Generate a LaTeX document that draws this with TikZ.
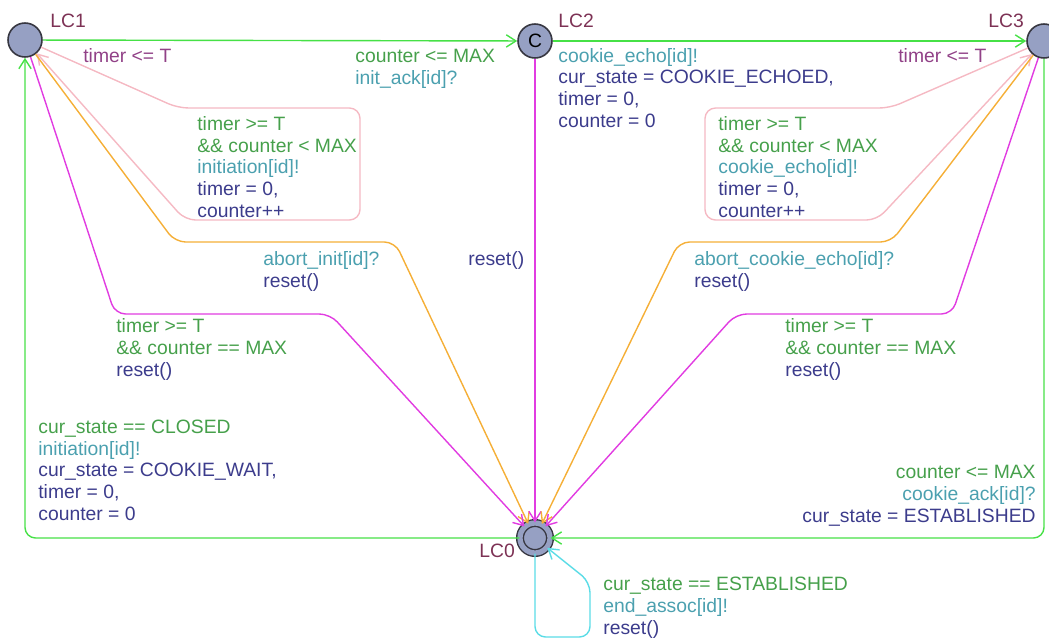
\documentclass[tikz,border=0pt]{standalone}
\usepackage{fontspec}
\setmainfont{Liberation Sans}
\usetikzlibrary{arrows.meta}
\definecolor{guardgreen}{RGB}{70,160,75}
\definecolor{synccyan}{RGB}{75,160,175}
\definecolor{updnavy}{RGB}{60,60,140}
\definecolor{invpurple}{RGB}{145,65,135}
\definecolor{namemaroon}{RGB}{125,50,85}
\definecolor{edgegreen}{RGB}{70,225,70}
\definecolor{edgepink}{RGB}{245,185,195}
\definecolor{edgeorange}{RGB}{245,175,55}
\definecolor{edgemagenta}{RGB}{225,60,225}
\definecolor{edgecyan}{RGB}{90,220,230}
\definecolor{locfill}{RGB}{150,160,195}
\definecolor{locdraw}{RGB}{55,55,65}

\begin{document}
\begin{tikzpicture}[
    x=0.02cm, y=-0.02cm,
    loc/.style={circle, draw=locdraw, fill=locfill, line width=0.9pt, minimum size=0.68cm, inner sep=0pt},
    initloc/.style={circle, draw=locdraw, fill=locfill, line width=0.8pt, double=locfill, double distance=3pt, minimum size=0.6cm, inner sep=0pt},
    locname/.style={inner sep=0pt, anchor=base west, text=namemaroon, font=\fontsize{11}{12.3}\selectfont},
    lbl/.style={inner sep=0pt, anchor=base west, align=left, font=\fontsize{11}{12.3}\selectfont},
    edge/.style={->, >={Straight Barb[length=5.5pt, width=7pt]}, line width=0.8pt, rounded corners=6pt}
]
    \useasboundingbox (0,0) rectangle (1049,640);

    % Locations
    \node[loc] (lc1) at (25,40) {};
    \node[loc, font=\fontsize{11}{12}\selectfont] (lc2) at (535,41) {C};
    \node[loc] (lc3) at (1044,41) {};
    \node[initloc] (lc0) at (535,538) {};

    % Location names and invariants
    \node[locname] (lc1name) at (50,27) {LC1};
    \node[locname] (lc2name) at (558,27) {LC2};
    \node[locname] (lc3name) at (988,27) {LC3};
    \node[locname] (lc0name) at (479,557) {LC0};
    \node[lbl, text=invpurple] (lc1inv) at (83,62) {timer <= T};
    \node[lbl, text=invpurple] (lc3inv) at (898,62) {timer <= T};

    % Top row edges (labels anchored on their last line)
    \draw[edge, edgegreen] (lc1) -- (lc2);
    \draw[edge, edgegreen] (lc2) -- (lc3);
    \node[lbl] (initack) at (355,84) {\textcolor{guardgreen}{counter <= MAX}\\
        \textcolor{synccyan}{init\_ack[id]?}};
    \node[lbl] (echo) at (558,127) {\textcolor{synccyan}{cookie\_echo[id]!}\\
        \textcolor{updnavy}{cur\_state = COOKIE\_ECHOED,}\\
        \textcolor{updnavy}{timer = 0,}\\
        \textcolor{updnavy}{counter = 0}};

    % Retransmission loops
    \draw[edge, edgepink] (lc1) -- (178,108) -- (360,108) -- (360,220) -- (185,220) -- (lc1);
    \draw[edge, edgepink] (lc3) -- (890,108) -- (705,108) -- (705,220) -- (877,220) -- (lc3);
    \node[lbl] (retryinit) at (197,217) {\textcolor{guardgreen}{timer >= T}\\
        \textcolor{guardgreen}{\&\& counter < MAX}\\
        \textcolor{synccyan}{initiation[id]!}\\
        \textcolor{updnavy}{timer = 0,}\\
        \textcolor{updnavy}{counter++}};
    \node[lbl] (retryecho) at (718,217) {\textcolor{guardgreen}{timer >= T}\\
        \textcolor{guardgreen}{\&\& counter < MAX}\\
        \textcolor{synccyan}{cookie\_echo[id]!}\\
        \textcolor{updnavy}{timer = 0,}\\
        \textcolor{updnavy}{counter++}};

    % Aborts and timeouts back to LC0
    \draw[edge, edgeorange] (lc1) -- (175,242) -- (395,242) -- (lc0);
    \draw[edge, edgemagenta] (lc1) -- (115,314) -- (330,314) -- (lc0);
    \draw[edge, edgemagenta] (lc2) -- (lc0);
    \draw[edge, edgeorange] (lc3) -- (891,242) -- (679,242) -- (lc0);
    \draw[edge, edgemagenta] (lc3) -- (952,314) -- (736,314) -- (lc0);
    \node[lbl] (abortinit) at (263,287) {\textcolor{synccyan}{abort\_init[id]?}\\
        \textcolor{updnavy}{reset()}};
    \node[lbl, text=updnavy] (reset2) at (468,265) {reset()};
    \node[lbl] (abortecho) at (694,287) {\textcolor{synccyan}{abort\_cookie\_echo[id]?}\\
        \textcolor{updnavy}{reset()}};
    \node[lbl] (timeout1) at (116,376) {\textcolor{guardgreen}{timer >= T}\\
        \textcolor{guardgreen}{\&\& counter == MAX}\\
        \textcolor{updnavy}{reset()}};
    \node[lbl] (timeout3) at (785,376) {\textcolor{guardgreen}{timer >= T}\\
        \textcolor{guardgreen}{\&\& counter == MAX}\\
        \textcolor{updnavy}{reset()}};

    % Open and establish
    \draw[edge, edgegreen] (lc0) -- (25,538) -- (lc1);
    \draw[edge, edgegreen] (lc3) -- (1044,538) -- (lc0);
    \node[lbl] (open) at (38,520) {\textcolor{guardgreen}{cur\_state == CLOSED}\\
        \textcolor{synccyan}{initiation[id]!}\\
        \textcolor{updnavy}{cur\_state = COOKIE\_WAIT,}\\
        \textcolor{updnavy}{timer = 0,}\\
        \textcolor{updnavy}{counter = 0}};
    \node[lbl, anchor=base east, align=right] (established) at (1036,522) {\textcolor{guardgreen}{counter <= MAX}\\
        \textcolor{synccyan}{cookie\_ack[id]?}\\
        \textcolor{updnavy}{cur\_state = ESTABLISHED}};

    % Shutdown loop
    \draw[edge, edgecyan] (lc0) -- (535,637) -- (590,637) -- (590,582) -- (lc0);
    \node[lbl] (shutdown) at (603,634) {\textcolor{guardgreen}{cur\_state == ESTABLISHED}\\
        \textcolor{synccyan}{end\_assoc[id]!}\\
        \textcolor{updnavy}{reset()}};
\end{tikzpicture}
\end{document}
